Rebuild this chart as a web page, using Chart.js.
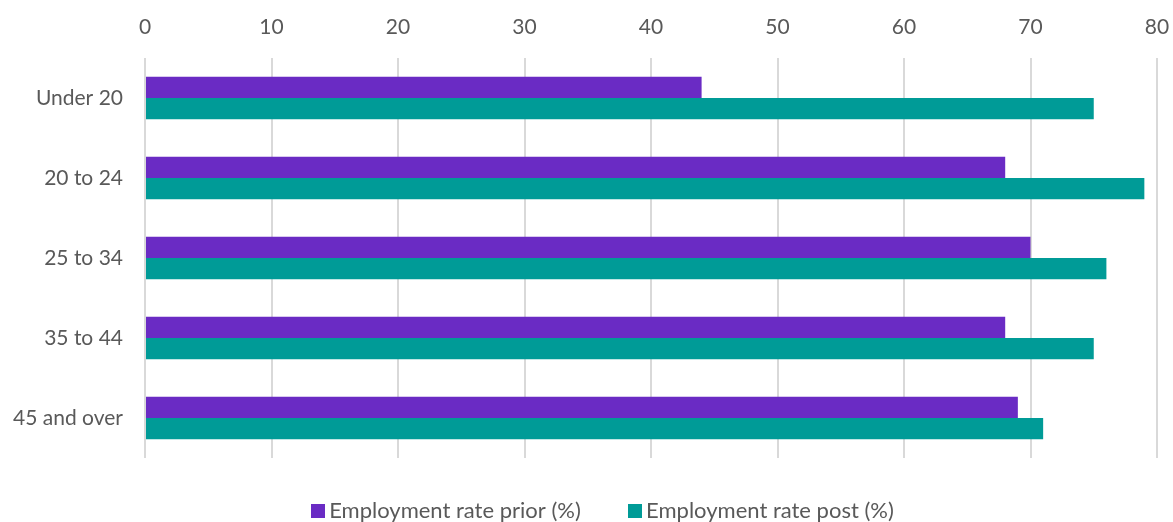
<!DOCTYPE html>
<html lang="en">
<head>
    <meta charset="UTF-8">
    <title>Employment rate by age group</title>
    <script src="https://cdn.jsdelivr.net/npm/chart.js"></script>
    <style>
        html, body {
            margin: 0;
            padding: 0;
            background: #ffffff;
            overflow: hidden;
        }
        .chart-box {
            width: 1173px;
            height: 522px;
            position: relative;
        }
    </style>
</head>
<body>
    <div class="chart-box">
        <canvas id="rateChart"></canvas>
    </div>

    <script>
        // values
        const ageGroups = ['Under 20', '20 to 24', '25 to 34', '35 to 44', '45 and over'];
        const ratePrior = [44, 68, 70, 68, 69];
        const ratePost = [75, 79, 76, 75, 71];
        const seriesNames = ['Employment rate prior (%)', 'Employment rate post (%)'];
        const seriesColors = ['#6a2bc4', '#009b97'];

        const textGrey = '#595959';
        const fontName = "Lato, 'Open Sans', sans-serif";

        // small square swatch for the legend (keeps the text close to the box)
        function swatch(color) {
            const c = document.createElement('canvas');
            c.width = 14;
            c.height = 14;
            const g = c.getContext('2d');
            g.fillStyle = color;
            g.fillRect(0, 0, 14, 14);
            return c;
        }
        const swatches = seriesColors.map(swatch);

        // the legend sits a bit right of the canvas centre in the original
        const legendNudge = {
            id: 'legendNudge',
            afterLayout(chart) {
                if (chart.legend) {
                    chart.legend.left += 27;
                    chart.legend.right += 27;
                }
            }
        };

        new Chart(document.getElementById('rateChart'), {
            type: 'bar',
            data: {
                labels: ageGroups,
                datasets: [{
                    label: seriesNames[0],
                    data: ratePrior,
                    backgroundColor: seriesColors[0],
                    borderWidth: 0,
                    barPercentage: 1,
                    categoryPercentage: 0.53
                }, {
                    label: seriesNames[1],
                    data: ratePost,
                    backgroundColor: seriesColors[1],
                    borderWidth: 0,
                    barPercentage: 1,
                    categoryPercentage: 0.53
                }]
            },
            plugins: [legendNudge],
            options: {
                indexAxis: 'y',
                responsive: true,
                maintainAspectRatio: false,
                animation: false,
                layout: {
                    padding: { top: 0, right: 16, left: 0, bottom: -10 }
                },
                scales: {
                    x: {
                        position: 'top',
                        min: 0,
                        max: 80,
                        afterFit: s => {
                            s.height = 58;
                            s.paddingLeft = 0;
                            s.paddingRight = 0;
                        },
                        ticks: {
                            stepSize: 10,
                            color: textGrey,
                            padding: 18,
                            font: { family: fontName, size: 21 }
                        },
                        grid: {
                            color: '#d9d9d9',
                            lineWidth: 2,
                            drawTicks: false
                        },
                        border: { display: false }
                    },
                    y: {
                        afterFit: s => { s.width = 145; },
                        ticks: {
                            color: textGrey,
                            padding: 14,
                            font: { family: fontName, size: 21 }
                        },
                        grid: { display: false },
                        border: { display: false }
                    }
                },
                plugins: {
                    legend: {
                        position: 'bottom',
                        labels: {
                            color: textGrey,
                            usePointStyle: true,
                            pointStyleWidth: 1,
                            padding: 42,
                            font: { family: fontName, size: 22 },
                            generateLabels: chart => {
                                const items = Chart.defaults.plugins.legend.labels.generateLabels(chart);
                                items.forEach((it, i) => {
                                    it.pointStyle = swatches[i];
                                    // a little extra room between the two entries
                                    if (i === 0) it.text = it.text + '  ';
                                });
                                return items;
                            }
                        }
                    },
                    tooltip: { enabled: false }
                }
            }
        });
    </script>
</body>
</html>
